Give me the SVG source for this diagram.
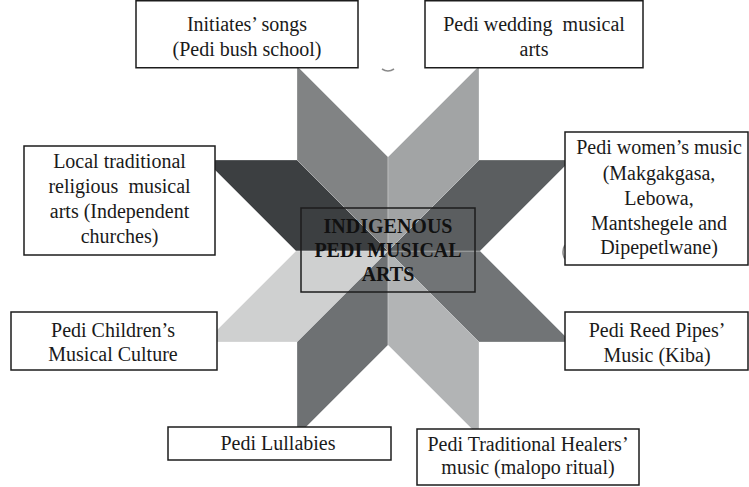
<svg xmlns="http://www.w3.org/2000/svg" width="749" height="487" viewBox="0 0 749 487">
  <style>
    .piece { stroke: #ffffff; stroke-opacity: 0.35; stroke-width: 0.8; stroke-linejoin: miter; }
    .box { fill: #ffffff; stroke: #1c1c1c; stroke-width: 1.5; }
    .hub { fill: none; stroke: #1c1c1c; stroke-width: 1.5; }
    .lbl { font-family: 'Liberation Serif', serif; font-size: 20px; font-weight: normal; fill: #1a1a1a; text-anchor: middle; }
    .hubtxt { font-family: 'Liberation Serif', serif; font-size: 20px; font-weight: bold; fill: #111111; text-anchor: middle; }
  </style>

  <rect width="749" height="487" fill="#ffffff"/>

  <!-- eight-pointed star: parallelograms around the centre (388,251) -->
  <g id="star">
    <polygon class="piece" fill="#818384" points="388,251 388,157 297,66 297,160"/>
    <polygon class="piece" fill="#a2a4a5" points="388,251 388,157 479,66 479,160"/>
    <polygon class="piece" fill="#3c3f41" points="388,251 297,160 205,160 296,251"/>
    <polygon class="piece" fill="#cfd0d0" points="388,251 296,251 205,342 297,342"/>
    <polygon class="piece" fill="#6e7173" points="388,251 297,342 297,436 388,345"/>
    <polygon class="piece" fill="#b2b4b5" points="388,251 388,345 479,436 479,342"/>
    <polygon class="piece" fill="#717476" points="388,251 479,342 571,342 480,251"/>
    <polygon class="piece" fill="#5b5e60" points="388,251 480,251 571,160 479,160"/>
  </g>

  <!-- small leftover marks peeking out beside the boxes -->
  <g id="marks" fill="none" stroke="#8a8a8a" stroke-width="1.6">
    <path d="M382,69 Q388,73 394,69"/>
    <path d="M565,245 Q561,252 565,259"/>
  </g>

  <!-- central hub -->
  <g id="hub">
    <rect class="hub" x="301" y="208" width="174" height="84"/>
    <text class="hubtxt" x="388" y="233">INDIGENOUS</text>
    <text class="hubtxt" x="388" y="257">PEDI MUSICAL</text>
    <text class="hubtxt" x="388" y="281">ARTS</text>
  </g>

  <g id="initiates">
    <rect class="box" x="136" y="0.75" width="222" height="67"/>
    <text class="lbl" x="247" y="31">Initiates’ songs</text>
    <text class="lbl" x="247" y="56">(Pedi bush school)</text>
  </g>

  <g id="wedding">
    <rect class="box" x="425" y="0.75" width="218" height="67"/>
    <text class="lbl" x="534" y="31" xml:space="preserve">Pedi wedding  musical</text>
    <text class="lbl" x="534" y="56">arts</text>
  </g>

  <g id="religious">
    <rect class="box" x="24" y="146" width="191" height="109"/>
    <text class="lbl" x="119.5" y="168">Local traditional</text>
    <text class="lbl" x="119.5" y="193" xml:space="preserve">religious  musical</text>
    <text class="lbl" x="119.5" y="218">arts (Independent</text>
    <text class="lbl" x="119.5" y="243">churches)</text>
  </g>

  <g id="women">
    <rect class="box" x="565" y="132" width="183" height="133"/>
    <text class="lbl" x="659" y="154">Pedi women’s music</text>
    <text class="lbl" x="659" y="180">(Makgakgasa,</text>
    <text class="lbl" x="659" y="205">Lebowa,</text>
    <text class="lbl" x="659" y="230">Mantshegele and</text>
    <text class="lbl" x="659" y="254">Dipepetlwane)</text>
  </g>

  <g id="children">
    <rect class="box" x="11" y="312" width="206" height="58"/>
    <text class="lbl" x="113" y="337">Pedi Children’s</text>
    <text class="lbl" x="113" y="361">Musical Culture</text>
  </g>

  <g id="reedpipes">
    <rect class="box" x="565" y="312" width="183" height="58"/>
    <text class="lbl" x="657" y="337">Pedi Reed Pipes’</text>
    <text class="lbl" x="657" y="362">Music (Kiba)</text>
  </g>

  <g id="lullabies">
    <rect class="box" x="168" y="427" width="223" height="33"/>
    <text class="lbl" x="278" y="450">Pedi Lullabies</text>
  </g>

  <g id="healers">
    <rect class="box" x="417" y="429" width="222" height="56"/>
    <text class="lbl" x="528" y="451">Pedi Traditional Healers’</text>
    <text class="lbl" x="528" y="474">music (malopo ritual)</text>
  </g>
</svg>
